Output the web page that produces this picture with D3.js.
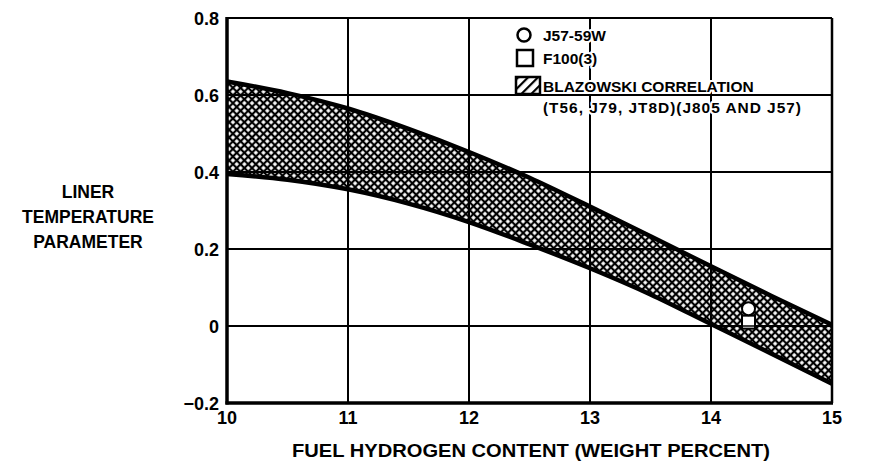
<!DOCTYPE html>
<html>
<head>
<meta charset="utf-8">
<script src="https://cdn.jsdelivr.net/npm/d3@7/dist/d3.min.js"></script>
<style>
  html, body { margin: 0; padding: 0; background: #fff; }
  svg { display: block; }
  text { font-family: "Liberation Sans", Arial, sans-serif; font-weight: bold; fill: #000; }
</style>
</head>
<body>
<svg id="chart" width="878" height="464"></svg>
<script>
// ---- data ----
const hydrogen = [10, 10.5, 11, 11.5, 12, 12.5, 13, 13.5, 14, 14.5, 15];
const bandUpper = [0.635, 0.605, 0.565, 0.512, 0.452, 0.385, 0.31, 0.233, 0.155, 0.078, 0.003];
const bandLower = [0.395, 0.38, 0.355, 0.318, 0.27, 0.212, 0.15, 0.082, 0.005, -0.072, -0.15];
const j57Points = [{x: 14.31, y: 0.045}];
const f100Points = [{x: 14.31, y: 0.01}];
const xTicks = [10, 11, 12, 13, 14, 15];
const yTicks = [-0.2, 0, 0.2, 0.4, 0.6, 0.8];
const yTitleLines = ["LINER", "TEMPERATURE", "PARAMETER"];
const xTitle = "FUEL HYDROGEN CONTENT (WEIGHT PERCENT)";
const legendItems = [
  {type: "circle", label: ["J57-59W"]},
  {type: "square", label: ["F100(3)"]},
  {type: "hatch", label: ["BLAZOWSKI CORRELATION", "(T56, J79, JT8D)(J805 AND J57)"]}
];

// ---- layout ----
const svg = d3.select("#chart");
const x = d3.scaleLinear().domain([10, 15]).range([227, 832]);
const y = d3.scaleLinear().domain([-0.2, 0.8]).range([403, 18]);

const defs = svg.append("defs");
const cross = defs.append("pattern")
  .attr("id", "cross").attr("patternUnits", "userSpaceOnUse")
  .attr("width", 5.4).attr("height", 5.4)
  .attr("patternTransform", "rotate(45)");
cross.append("rect").attr("width", 5.4).attr("height", 5.4).attr("fill", "#000");
cross.append("rect").attr("x", 1.1).attr("y", 1.1).attr("width", 3.2).attr("height", 3.2).attr("fill", "#fff");

const diag = defs.append("pattern")
  .attr("id", "diag").attr("patternUnits", "userSpaceOnUse")
  .attr("width", 7).attr("height", 7)
  .attr("patternTransform", "rotate(-45)");
diag.append("rect").attr("width", 7).attr("height", 7).attr("fill", "#fff");
diag.append("rect").attr("width", 7).attr("height", 2.2).attr("fill", "#000");

const bandData = hydrogen.map((h, i) => ({h, lo: bandLower[i], hi: bandUpper[i]}));

// band fill
const area = d3.area().x(d => x(d.h)).y0(d => y(d.lo)).y1(d => y(d.hi)).curve(d3.curveMonotoneX);
svg.append("path").datum(bandData).attr("d", area).attr("fill", "url(#cross)");

// gridlines
const g = svg.append("g");
g.selectAll("line.v").data(xTicks.slice(1, -1)).join("line")
  .attr("x1", d => x(d)).attr("x2", d => x(d))
  .attr("y1", y(0.8)).attr("y2", y(-0.2))
  .attr("stroke", "#000").attr("stroke-width", 2);
g.selectAll("line.h").data(yTicks.slice(1, -1)).join("line")
  .attr("x1", x(10)).attr("x2", x(15))
  .attr("y1", d => y(d)).attr("y2", d => y(d))
  .attr("stroke", "#000").attr("stroke-width", 2);

// band outlines
const lineU = d3.line().x(d => x(d.h)).y(d => y(d.hi)).curve(d3.curveMonotoneX);
const lineL = d3.line().x(d => x(d.h)).y(d => y(d.lo)).curve(d3.curveMonotoneX);
svg.append("path").datum(bandData).attr("d", lineU).attr("fill", "none").attr("stroke", "#000").attr("stroke-width", 4.5);
svg.append("path").datum(bandData).attr("d", lineL).attr("fill", "none").attr("stroke", "#000").attr("stroke-width", 4.5);

// frame
svg.append("line").attr("x1", x(10)).attr("x2", x(15)).attr("y1", y(0.8)).attr("y2", y(0.8)).attr("stroke", "#000").attr("stroke-width", 2);
svg.append("line").attr("x1", x(15)).attr("x2", x(15)).attr("y1", y(0.8)).attr("y2", y(-0.2)).attr("stroke", "#000").attr("stroke-width", 2.5);
svg.append("line").attr("x1", x(10)).attr("x2", x(10)).attr("y1", y(0.8) - 1).attr("y2", y(-0.2) + 1.5).attr("stroke", "#000").attr("stroke-width", 3.5);
svg.append("line").attr("x1", x(10) - 1.5).attr("x2", x(15) + 1).attr("y1", y(-0.2)).attr("y2", y(-0.2)).attr("stroke", "#000").attr("stroke-width", 3.5);

// data markers
const ms = 13;
svg.selectAll("rect.f100").data(f100Points).join("rect")
  .attr("x", d => x(d.x) - ms / 2).attr("y", d => y(d.y) - ms / 2)
  .attr("width", ms).attr("height", ms)
  .attr("fill", "#fff").attr("stroke", "#000").attr("stroke-width", 2);
svg.selectAll("circle.j57").data(j57Points).join("circle")
  .attr("cx", d => x(d.x)).attr("cy", d => y(d.y)).attr("r", 6.5)
  .attr("fill", "#fff").attr("stroke", "#000").attr("stroke-width", 2);
svg.append("line").attr("x1", x(14.31) - ms / 2).attr("x2", x(14.31) + ms / 2)
  .attr("y1", y(0)).attr("y2", y(0)).attr("stroke", "#000").attr("stroke-width", 1.5);

// tick labels
svg.selectAll("text.yt").data(yTicks).join("text")
  .attr("x", 219).attr("y", d => y(d) + 6.5)
  .attr("text-anchor", "end").attr("font-size", 18)
  .text(d => d === 0 ? "0" : (d < 0 ? "\u2212" + Math.abs(d).toFixed(1) : d.toFixed(1)));
svg.selectAll("text.xt").data(xTicks).join("text")
  .attr("x", d => x(d)).attr("y", 424)
  .attr("text-anchor", "middle").attr("font-size", 18)
  .text(d => d);

// axis titles
svg.append("text").attr("x", 531).attr("y", 457).attr("text-anchor", "middle")
  .attr("font-size", 17.5).attr("textLength", 478).attr("lengthAdjust", "spacingAndGlyphs")
  .text(xTitle);
svg.selectAll("text.yl").data(yTitleLines).join("text")
  .attr("x", 88).attr("y", (d, i) => 198 + i * 25)
  .attr("text-anchor", "middle").attr("font-size", 17.5)
  .text(d => d);

// legend
const leg = svg.append("g");
const rowY = [35, 58, 86];
legendItems.forEach((it, i) => {
  const cy = rowY[i];
  if (it.type === "circle") {
    leg.append("circle").attr("cx", 524).attr("cy", cy).attr("r", 6.5)
      .attr("fill", "#fff").attr("stroke", "#000").attr("stroke-width", 2.5);
  } else if (it.type === "square") {
    leg.append("rect").attr("x", 517).attr("y", cy - 8).attr("width", 16).attr("height", 16)
      .attr("fill", "#fff").attr("stroke", "#000").attr("stroke-width", 2.5);
  } else {
    leg.append("rect").attr("x", 516).attr("y", cy - 9).attr("width", 24).attr("height", 17)
      .attr("fill", "url(#diag)").attr("stroke", "#000").attr("stroke-width", 2.5);
  }
  it.label.forEach((t, j) => {
    const tx = leg.append("text").attr("x", 543).attr("y", cy + 5.5 + j * 21)
      .attr("font-size", 15.5)
      .attr("stroke", "#fff").attr("stroke-width", 4).attr("paint-order", "stroke")
      .attr("stroke-linejoin", "round")
      .text(t);
    if (j === 1) tx.attr("textLength", 258).attr("lengthAdjust", "spacing");
  });
});
</script>
</body>
</html>
